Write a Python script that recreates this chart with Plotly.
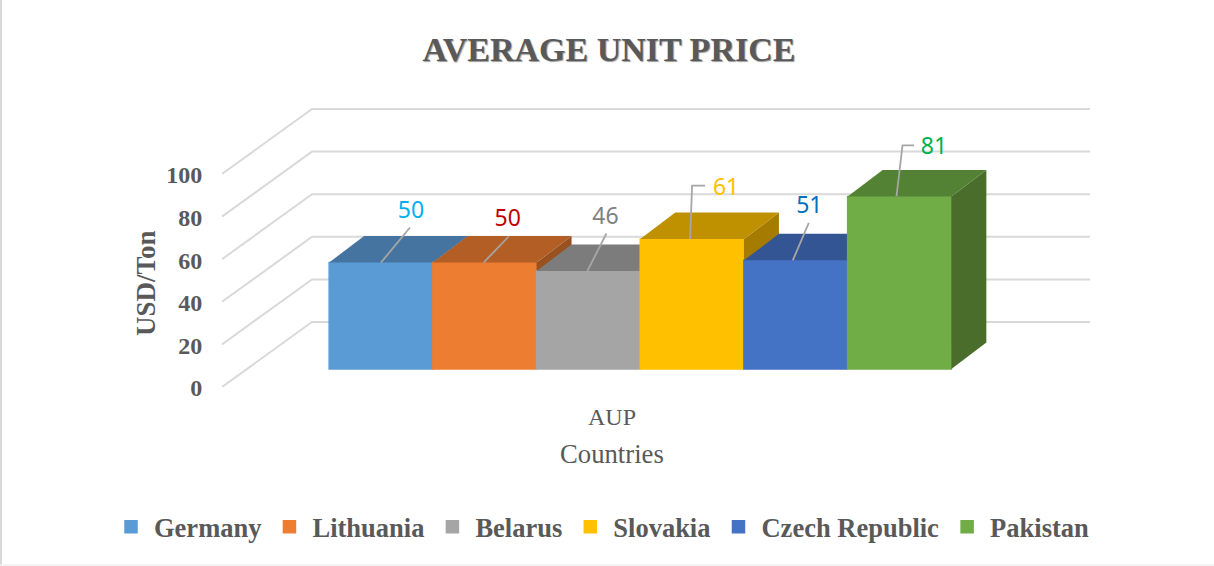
import plotly.graph_objects as go

# ---- data -------------------------------------------------------------
COUNTRIES = ["Germany", "Lithuania", "Belarus", "Slovakia", "Czech Republic", "Pakistan"]
VALUES = [50, 50, 46, 61, 51, 81]
LABELS = ["50", "50", "46", "61", "51", "81"]
Y_TICKS = [0, 20, 40, 60, 80, 100]
CATEGORY_LABEL = "AUP"

# ---- style ------------------------------------------------------------
FRONT = ["#5B9BD5", "#ED7D31", "#A5A5A5", "#FFC000", "#4472C4", "#70AD47"]
TOP = ["#44749F", "#B25E25", "#7C7C7C", "#BF9000", "#335593", "#548235"]
SIDE = ["#3C6690", "#9A5120", "#6B6B6B", "#A67C00", "#2C4A80", "#4A6D2B"]
LABEL_COLORS = ["#00B0F0", "#C00000", "#7F7F7F", "#FFC000", "#0070C0", "#00B050"]
GRID = "#D9D9D9"
LEADER = "#A6A6A6"
INK = "#595959"
SERIF = "Liberation Serif"

W, H = 1214, 566
PLOT_L, PLOT_R, PLOT_T, PLOT_B = 222, 1092, 100, 387
PX_PER_CAT = 103.7
PX_PER_UNIT = 2.13
CAT0_PX = 381.0           # pixel of the first category centre


def dx(px):
    return px / PX_PER_CAT


def dy(px):
    return px / PX_PER_UNIT


x_range = [(PLOT_L - CAT0_PX) / PX_PER_CAT, (PLOT_R - CAT0_PX) / PX_PER_CAT]
y_top = dy(PLOT_B - PLOT_T)

# Perspective offsets
WALL_DX, WALL_DY = dx(90), dy(65)       # floor depth
BAR_DX, BAR_DY = dx(35), dy(26.5)       # bar depth
BAR_LIFT = dy(18)                       # bars stand 18 px above the front edge
FLOOR_LEFT = x_range[0]
WALL_RIGHT = (1090 - CAT0_PX) / PX_PER_CAT
FLOOR_CENTRE = (612 - CAT0_PX) / PX_PER_CAT

# Leader lines (pixel offsets from each bar's top-centre) and label offsets
LEADERS = [
    [(0, 0), (29, -35)],
    [(-1, 0), (24, -26)],
    [(-1, 0), (18, -37.5)],
    [(-2, 0), (0, -53.5), (13, -53.5)],
    [(-3, 0), (13, -37.5)],
    [(-3, 0), (3, -51), (14.5, -51)],
]
LABEL_OFFSETS = [(30, -50.5), (23, -42.5), (17, -52.5), (34, -49.5), (13.5, -53.5), (34.5, -48.5)]

fig = go.Figure()

# Walls: gridlines on the back wall + diagonals on the side wall (main axes)
for t in Y_TICKS:
    fig.add_trace(go.Scatter(
        x=[FLOOR_LEFT, FLOOR_LEFT + WALL_DX, WALL_RIGHT],
        y=[t, t + WALL_DY, t + WALL_DY],
        mode="lines", line=dict(color=GRID, width=2),
        cliponaxis=False, showlegend=False, hoverinfo="skip",
    ))

# One overlaid y axis per bar so that they paint left to right
for i, (name, v) in enumerate(zip(COUNTRIES, VALUES)):
    ya = f"y{i + 2}"
    xl, xr = i - 0.5, i + 0.5
    fig.add_trace(go.Scatter(
        x=[xr, xr + BAR_DX, xr + BAR_DX, xr, xr],
        y=[v, v + BAR_DY, BAR_DY, 0, v],
        yaxis=ya, mode="lines", fill="toself", fillcolor=SIDE[i],
        line=dict(width=0), showlegend=False, hoverinfo="skip",
    ))
    fig.add_trace(go.Scatter(
        x=[xl, xr, xr + BAR_DX, xl + BAR_DX, xl],
        y=[v, v, v + BAR_DY, v + BAR_DY, v],
        yaxis=ya, mode="lines", fill="toself", fillcolor=TOP[i],
        line=dict(width=0), showlegend=False, hoverinfo="skip",
    ))
    fig.add_trace(go.Bar(
        x=[i], y=[v], width=1, name=name, yaxis=ya,
        marker=dict(color=FRONT[i], line=dict(width=1.5, color=FRONT[i])),
    ))

# Labels and leader lines on a last overlay
ya_lab = f"y{len(VALUES) + 2}"
for i, v in enumerate(VALUES):
    fig.add_trace(go.Scatter(
        x=[i + dx(p[0]) for p in LEADERS[i]],
        y=[v + dy(-p[1]) for p in LEADERS[i]],
        yaxis=ya_lab, mode="lines", line=dict(color=LEADER, width=1.8),
        showlegend=False, hoverinfo="skip",
    ))
fig.add_trace(go.Scatter(
    x=[i + dx(o[0]) for i, o in enumerate(LABEL_OFFSETS)],
    y=[v + dy(-o[1]) for v, o in zip(VALUES, LABEL_OFFSETS)],
    text=LABELS, mode="text", textposition="middle center", yaxis=ya_lab,
    textfont=dict(family="Noto Sans", size=23, color=LABEL_COLORS),
    showlegend=False, hoverinfo="skip",
))

layout_axes = {}
for k in range(2, len(VALUES) + 3):
    layout_axes[f"yaxis{k}"] = dict(
        overlaying="y", visible=False,
        range=[-BAR_LIFT, y_top - BAR_LIFT], fixedrange=True,
    )


def px_x(p):
    return (p - PLOT_L) / (PLOT_R - PLOT_L)


def px_y(p):
    return (PLOT_B - p) / (PLOT_B - PLOT_T)


fig.update_layout(
    width=W, height=H,
    margin=dict(l=PLOT_L, r=W - PLOT_R, t=PLOT_T, b=H - PLOT_B, autoexpand=False),
    paper_bgcolor="white", plot_bgcolor="rgba(0,0,0,0)",
    barmode="overlay",
    title=dict(
        text="AVERAGE UNIT PRICE", x=609 / W, xanchor="center",
        y=1 - 49 / H, yanchor="middle",
        font=dict(family=SERIF, size=34, color=INK, weight="bold",
                  shadow="1px 1px 1px #9a9a9a"),
    ),
    xaxis=dict(
        range=x_range, showgrid=False, zeroline=False, showline=False,
        tickvals=[FLOOR_CENTRE], ticktext=[CATEGORY_LABEL],
        ticks="outside", ticklen=8, tickcolor="rgba(0,0,0,0)",
        tickfont=dict(family=SERIF, size=24, color=INK),
        fixedrange=True,
    ),
    yaxis=dict(
        range=[0, y_top], tickvals=Y_TICKS, showgrid=False, zeroline=False,
        showline=False, ticks="outside", ticklen=14, tickcolor="rgba(0,0,0,0)",
        ticklabelshift=1,
        tickfont=dict(family=SERIF, size=24, color=INK, weight="bold"),
        fixedrange=True,
    ),
    legend=dict(
        orientation="h", x=px_x(108), xanchor="left",
        y=px_y(527), yanchor="middle", itemwidth=36,
        font=dict(family=SERIF, size=26.5, color=INK, weight="bold"),
        itemclick=False, itemdoubleclick=False, bgcolor="rgba(0,0,0,0)",
    ),
    annotations=[
        dict(text="USD/Ton", textangle=-90, xref="paper", yref="paper",
             x=px_x(146), y=px_y(283), xanchor="center", yanchor="middle",
             showarrow=False,
             font=dict(family=SERIF, size=27, color=INK, weight="bold")),
        dict(text="Countries", xref="paper", yref="paper",
             x=px_x(612), y=px_y(454), xanchor="center", yanchor="middle",
             showarrow=False, font=dict(family=SERIF, size=26.7, color=INK)),
    ],
    shapes=[
        dict(type="line", xref="paper", yref="paper", x0=px_x(1), x1=px_x(1),
             y0=px_y(0), y1=px_y(H), line=dict(color=GRID, width=2)),
        dict(type="line", xref="paper", yref="paper", x0=px_x(0), x1=px_x(W),
             y0=px_y(565), y1=px_y(565), line=dict(color="#F2F2F2", width=1.5)),
    ],
    **layout_axes,
)

fig.write_html("out.html", post_script="document.body.style.margin='0';",
               config={"displayModeBar": False})
